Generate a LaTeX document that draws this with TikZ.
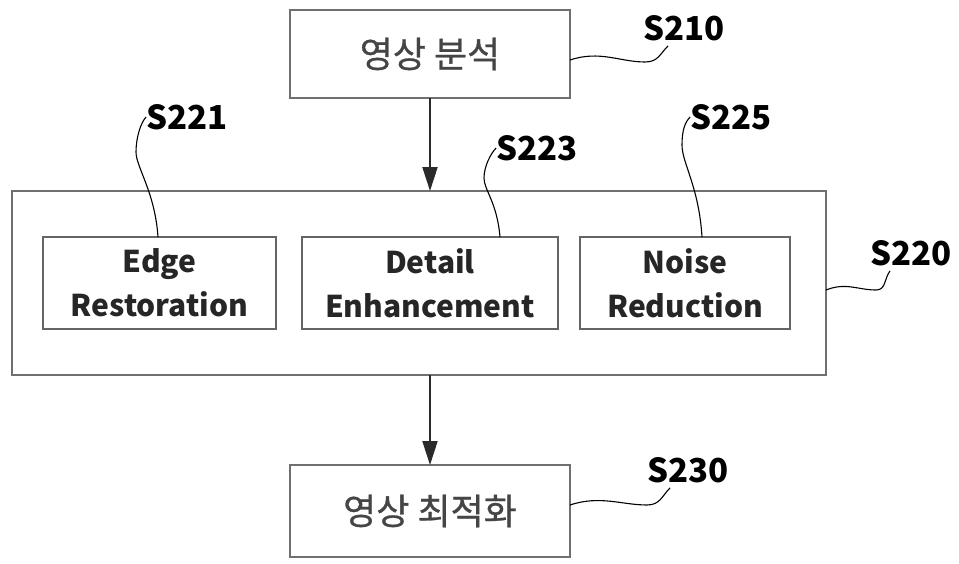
\documentclass[tikz,border=0pt]{standalone}
\usepackage{fontspec}
\setmainfont{Noto Sans CJK KR}
\newfontfamily\krfont[UprightFeatures={FakeBold=0.8}]{Noto Sans CJK KR}
\usepackage{tikz}
\usetikzlibrary{arrows.meta,calc,positioning}

\definecolor{boxline}{HTML}{707070}
\definecolor{koreantext}{HTML}{454545}
\definecolor{flowline}{HTML}{2A2A2A}

\begin{document}
\begin{tikzpicture}[
    x=1pt, y=-1pt,
    stagebox/.style={draw=boxline, line width=2.6pt, outer sep=0pt, minimum height=88pt, minimum width=280pt,
      text=koreantext, font=\krfont\fontsize{36}{40}\selectfont},
    groupbox/.style={draw=boxline, line width=2.6pt, outer sep=0pt, minimum width=814pt, minimum height=184pt},
    subbox/.style={draw=boxline!90!black, line width=2.6pt, outer sep=0pt, minimum height=92pt, align=center,
      text=black!85, font=\fontsize{30}{44}\selectfont\bfseries},
    steplabel/.style={inner sep=0pt, font=\fontsize{33}{36}\selectfont\bfseries},
    flowarrow/.style={-{Triangle[length=24pt,width=15pt]}, line width=2pt, draw=flowline},
    leader/.style={line width=1.1pt, black}
  ]
    \useasboundingbox (0,0) rectangle (959,563);

    \node[stagebox] (anlys) at (430,54) {영상 분석};
    \node[groupbox] (proc) at (419,283) {};
    \node[subbox, minimum width=233pt] (edge) at (159.5,283) {Edge\\ Restoration};
    \node[subbox, minimum width=256pt] (detail) at (430,283) {Detail\\ Enhancement};
    \node[subbox, minimum width=210pt] (noise) at (685,283) {Noise\\ Reduction};
    \node[stagebox, minimum height=92pt] (optim) at (430,511) {영상 최적화};

    \node[steplabel] (lbl210) at (684,28) {S210};
    \node[steplabel] (lbl221) at (187,117) {S221};
    \node[steplabel] (lbl223) at (537,148) {S223};
    \node[steplabel] (lbl225) at (731,117) {S225};
    \node[steplabel] (lbl220) at (911,253) {S220};
    \node[steplabel] (lbl230) at (688,470) {S230};

    \draw[flowarrow] (anlys) -- (anlys |- proc.north);
    \draw[flowarrow] (proc.south -| optim) -- (optim);

    \draw[leader] ($(anlys.east)+(0,6)$) .. controls +(30,-10) and +(-25,0) .. (645,62)
      .. controls +(13,0) and +(-8,8) .. ($(lbl210.south)+(-16,5)$);
    \draw[leader] ($(proc.east)+(0,7)$) .. controls +(20,-8) and +(-18,0) .. (876,290)
      .. controls +(10,0) and +(-6,8) .. ($(lbl220.south)+(-21,5)$);
    \draw[leader] ($(optim.east)+(0,-6)$) .. controls +(30,-10) and +(-25,0) .. (647,505)
      .. controls +(13,0) and +(-8,8) .. ($(lbl230.south)+(-18,5)$);

    \draw[leader] (edge.north -| 158,0) .. controls +(-3,-45) and +(0,15) .. (136,152)
      .. controls +(0,-15) and +(-5,5) .. (lbl221.west);
    \draw[leader] (detail.north -| 500,0) .. controls +(-3,-35) and +(0,12) .. (484,178)
      .. controls +(0,-12) and +(-5,5) .. (lbl223.west);
    \draw[leader] (noise.north -| 702,0) .. controls +(-3,-50) and +(0,18) .. (682,145)
      .. controls +(0,-15) and +(-5,5) .. (lbl225.west);
\end{tikzpicture}
\end{document}
